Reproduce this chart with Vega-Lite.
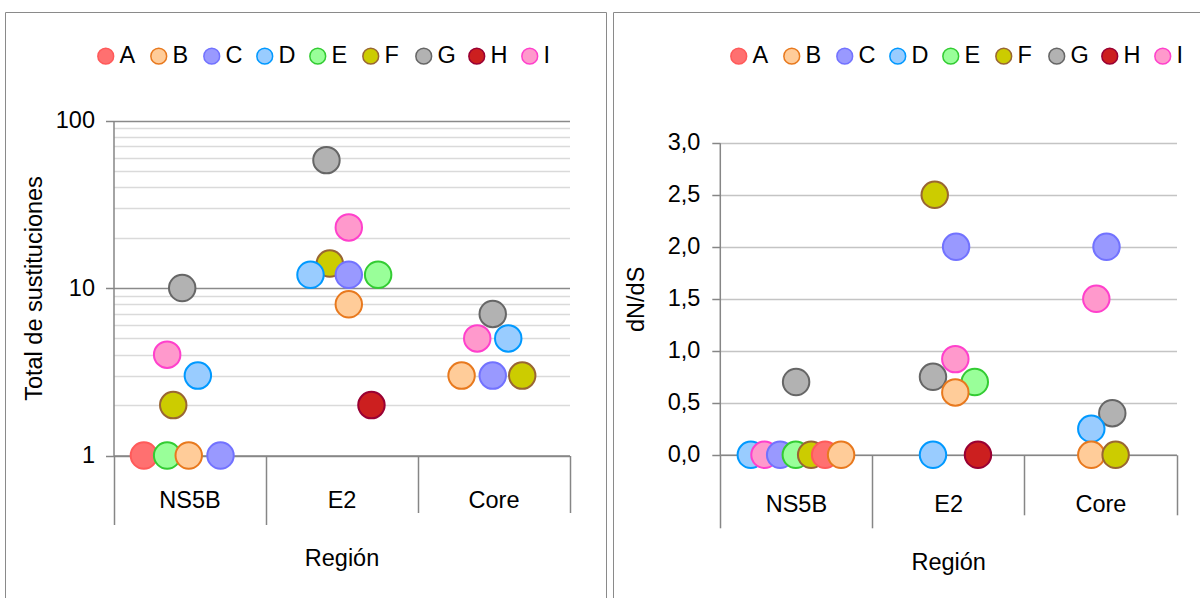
{
  "$schema": "https://vega.github.io/schema/vega-lite/v6.json",
  "padding": {"left": 4, "top": 11, "right": 0, "bottom": 0},
  "spacing": 5,
  "config": {
    "font": "Liberation Sans",
    "view": {"stroke": "#8a8a8a", "strokeWidth": 1},
    "axis": {
      "labelFont": "Liberation Sans",
      "labelFontSize": 23.5,
      "labelColor": "#000000",
      "titleFont": "Liberation Sans",
      "titleFontSize": 23.5,
      "titleFontWeight": "normal",
      "titleColor": "#000000",
      "domainColor": "#868686",
      "domainWidth": 1.5,
      "tickColor": "#868686",
      "tickWidth": 1.5
    },
    "legend": {
      "labelFont": "Liberation Sans",
      "labelFontSize": 23.5,
      "labelColor": "#000000"
    }
  },
  "datasets": {
    "sustituciones": [
      {"region": "NS5B", "genotipo": "A", "valor": 1, "desplazamiento": -0.30},
      {"region": "NS5B", "genotipo": "E", "valor": 1, "desplazamiento": -0.147},
      {"region": "NS5B", "genotipo": "B", "valor": 1, "desplazamiento": -0.005},
      {"region": "NS5B", "genotipo": "C", "valor": 1, "desplazamiento": 0.204},
      {"region": "NS5B", "genotipo": "G", "valor": 10, "desplazamiento": -0.048},
      {"region": "NS5B", "genotipo": "I", "valor": 4, "desplazamiento": -0.147},
      {"region": "NS5B", "genotipo": "D", "valor": 3, "desplazamiento": 0.055},
      {"region": "NS5B", "genotipo": "F", "valor": 2, "desplazamiento": -0.107},
      {"region": "E2", "genotipo": "G", "valor": 58, "desplazamiento": -0.099},
      {"region": "E2", "genotipo": "I", "valor": 23, "desplazamiento": 0.048},
      {"region": "E2", "genotipo": "F", "valor": 14, "desplazamiento": -0.077},
      {"region": "E2", "genotipo": "D", "valor": 12, "desplazamiento": -0.204},
      {"region": "E2", "genotipo": "C", "valor": 12, "desplazamiento": 0.048},
      {"region": "E2", "genotipo": "E", "valor": 12, "desplazamiento": 0.241},
      {"region": "E2", "genotipo": "B", "valor": 8, "desplazamiento": 0.048},
      {"region": "E2", "genotipo": "H", "valor": 2, "desplazamiento": 0.197},
      {"region": "Core", "genotipo": "G", "valor": 7, "desplazamiento": -0.005},
      {"region": "Core", "genotipo": "I", "valor": 5, "desplazamiento": -0.107},
      {"region": "Core", "genotipo": "D", "valor": 5, "desplazamiento": 0.097},
      {"region": "Core", "genotipo": "B", "valor": 3, "desplazamiento": -0.21},
      {"region": "Core", "genotipo": "C", "valor": 3, "desplazamiento": -0.005},
      {"region": "Core", "genotipo": "F", "valor": 3, "desplazamiento": 0.189}
    ],
    "dnds": [
      {"region": "NS5B", "genotipo": "D", "valor": 0, "desplazamiento": -0.296},
      {"region": "NS5B", "genotipo": "I", "valor": 0, "desplazamiento": -0.206},
      {"region": "NS5B", "genotipo": "C", "valor": 0, "desplazamiento": -0.103},
      {"region": "NS5B", "genotipo": "E", "valor": 0, "desplazamiento": 0},
      {"region": "NS5B", "genotipo": "F", "valor": 0, "desplazamiento": 0.101},
      {"region": "NS5B", "genotipo": "A", "valor": 0, "desplazamiento": 0.193},
      {"region": "NS5B", "genotipo": "B", "valor": 0, "desplazamiento": 0.298},
      {"region": "NS5B", "genotipo": "G", "valor": 0.7, "desplazamiento": 0.002},
      {"region": "E2", "genotipo": "F", "valor": 2.5, "desplazamiento": -0.0875},
      {"region": "E2", "genotipo": "C", "valor": 2.0, "desplazamiento": 0.053},
      {"region": "E2", "genotipo": "I", "valor": 0.92, "desplazamiento": 0.048},
      {"region": "E2", "genotipo": "G", "valor": 0.75, "desplazamiento": -0.099},
      {"region": "E2", "genotipo": "E", "valor": 0.70, "desplazamiento": 0.176},
      {"region": "E2", "genotipo": "B", "valor": 0.6, "desplazamiento": 0.048},
      {"region": "E2", "genotipo": "D", "valor": 0, "desplazamiento": -0.099},
      {"region": "E2", "genotipo": "H", "valor": 0, "desplazamiento": 0.197},
      {"region": "Core", "genotipo": "C", "valor": 2.0, "desplazamiento": 0.041},
      {"region": "Core", "genotipo": "I", "valor": 1.5, "desplazamiento": -0.026},
      {"region": "Core", "genotipo": "G", "valor": 0.4, "desplazamiento": 0.079},
      {"region": "Core", "genotipo": "D", "valor": 0.25, "desplazamiento": -0.059},
      {"region": "Core", "genotipo": "B", "valor": 0, "desplazamiento": -0.059},
      {"region": "Core", "genotipo": "F", "valor": 0, "desplazamiento": 0.101}
    ]
  },
  "hconcat": [
    {
      "width": 601,
      "height": 590,
      "data": {"name": "sustituciones"},
      "mark": {"type": "point", "filled": true, "opacity": 1, "size": 700, "strokeWidth": 2},
      "encoding": {
        "x": {
          "field": "region",
          "type": "nominal",
          "sort": ["NS5B", "E2", "Core"],
          "scale": {"range": [108.5, 564.5], "paddingInner": 0, "paddingOuter": 0},
          "axis": {
            "title": "Región",
            "offset": -146.5,
            "labelAngle": 0,
            "tickBand": "extent",
            "tickSize": {"condition": {"test": "datum.extra || datum.value === 'NS5B'", "value": 69}, "value": 57},
            "labelPadding": {"condition": {"test": "datum.value === 'NS5B'", "value": -36}, "value": -24},
            "titlePadding": 21
          }
        },
        "xOffset": {"field": "desplazamiento", "type": "quantitative", "scale": {"domain": [-0.5, 0.5]}},
        "y": {
          "field": "valor",
          "type": "quantitative",
          "scale": {"type": "log", "domain": [1, 100], "range": [443.5, 108.5]},
          "axis": {
            "title": "Total de sustituciones",
            "offset": -108.5,
            "values": [1, 2, 3, 4, 5, 6, 7, 8, 9, 10, 20, 30, 40, 50, 60, 70, 80, 90, 100],
            "format": "d",
            "labelExpr": "datum.value === 1 || datum.value === 10 || datum.value === 100 ? datum.label : ''",
            "grid": true,
            "gridWidth": 1.3,
            "gridColor": {"condition": {"test": "datum.value === 1 || datum.value === 10 || datum.value === 100", "value": "#8a8a8a"}, "value": "#dadada"},
            "tickOpacity": {"condition": {"test": "datum.value === 1 || datum.value === 10 || datum.value === 100", "value": 1}, "value": 0},
            "tickSize": 8,
            "labelPadding": 11,
            "titlePadding": 9
          }
        },
        "fill": {
          "field": "genotipo",
          "type": "nominal",
          "scale": {
            "domain": ["A", "B", "C", "D", "E", "F", "G", "H", "I"],
            "range": ["#ff7070", "#ffcc99", "#9999ff", "#99ccff", "#99ff99", "#cccc00", "#b2b2b2", "#cc1f1f", "#ff99cc"]
          },
          "legend": {"orient": "none", "legendX": 89, "legendY": 32, "direction": "horizontal", "columns": 9, "gridAlign": "all", "columnPadding": 9, "symbolType": "circle", "symbolSize": 250, "symbolStrokeWidth": 1.5, "labelOffset": 2, "title": null, "padding": 0}
        },
        "stroke": {
          "field": "genotipo",
          "type": "nominal",
          "scale": {
            "domain": ["A", "B", "C", "D", "E", "F", "G", "H", "I"],
            "range": ["#ff5a5a", "#e8791e", "#7272ff", "#0099ff", "#33cc33", "#996633", "#666666", "#990033", "#ff40cc"]
          },
          "legend": {"orient": "none", "legendX": 89, "legendY": 32, "direction": "horizontal", "columns": 9, "gridAlign": "all", "columnPadding": 9, "symbolType": "circle", "symbolSize": 250, "symbolStrokeWidth": 1.5, "labelOffset": 2, "title": null, "padding": 0}
        }
      }
    },
    {
      "width": 590,
      "height": 590,
      "data": {"name": "dnds"},
      "mark": {"type": "point", "filled": true, "opacity": 1, "size": 700, "strokeWidth": 2},
      "encoding": {
        "x": {
          "field": "region",
          "type": "nominal",
          "sort": ["NS5B", "E2", "Core"],
          "scale": {"range": [106.8, 563.5], "paddingInner": 0, "paddingOuter": 0},
          "axis": {
            "title": "Región",
            "offset": -147.2,
            "labelAngle": 0,
            "tickBand": "extent",
            "tickSize": {"condition": {"test": "datum.extra || datum.value === 'NS5B'", "value": 73}, "value": 60},
            "labelPadding": {"condition": {"test": "datum.value === 'NS5B'", "value": -35}, "value": -22},
            "titlePadding": 21
          }
        },
        "xOffset": {"field": "desplazamiento", "type": "quantitative", "scale": {"domain": [-0.5, 0.5]}},
        "y": {
          "field": "valor",
          "type": "quantitative",
          "scale": {"domain": [0, 3], "range": [442.8, 130.8]},
          "axis": {
            "title": "dN/dS",
            "offset": -106.8,
            "values": [0, 0.5, 1, 1.5, 2, 2.5, 3],
            "labelExpr": "replace(format(datum.value, '.1f'), '.', ',')",
            "grid": true,
            "gridWidth": 1.3,
            "gridColor": "#c4c4c4",
            "tickSize": 8,
            "labelPadding": 12,
            "titlePadding": 19
          }
        },
        "fill": {
          "field": "genotipo",
          "type": "nominal",
          "scale": {
            "domain": ["A", "B", "C", "D", "E", "F", "G", "H", "I"],
            "range": ["#ff7070", "#ffcc99", "#9999ff", "#99ccff", "#99ff99", "#cccc00", "#b2b2b2", "#cc1f1f", "#ff99cc"]
          },
          "legend": {"orient": "none", "legendX": 114, "legendY": 32, "direction": "horizontal", "columns": 9, "gridAlign": "all", "columnPadding": 9, "symbolType": "circle", "symbolSize": 250, "symbolStrokeWidth": 1.5, "labelOffset": 2, "title": null, "padding": 0}
        },
        "stroke": {
          "field": "genotipo",
          "type": "nominal",
          "scale": {
            "domain": ["A", "B", "C", "D", "E", "F", "G", "H", "I"],
            "range": ["#ff5a5a", "#e8791e", "#7272ff", "#0099ff", "#33cc33", "#996633", "#666666", "#990033", "#ff40cc"]
          },
          "legend": {"orient": "none", "legendX": 114, "legendY": 32, "direction": "horizontal", "columns": 9, "gridAlign": "all", "columnPadding": 9, "symbolType": "circle", "symbolSize": 250, "symbolStrokeWidth": 1.5, "labelOffset": 2, "title": null, "padding": 0}
        }
      }
    }
  ],
  "resolve": {"scale": {"fill": "independent", "stroke": "independent"}}
}
